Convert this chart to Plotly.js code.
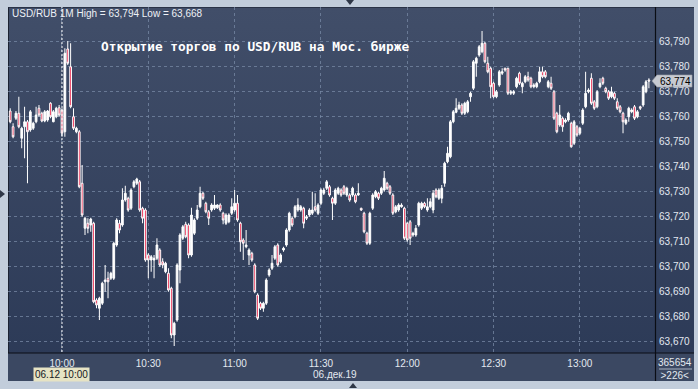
<!DOCTYPE html>
<html>
<head>
<meta charset="utf-8">
<script src="https://cdn.plot.ly/plotly-3.0.1.min.js"></script>
<style>
html,body{margin:0;padding:0;}
body{width:698px;height:389px;overflow:hidden;background:#c2cddb;position:relative;}
#panel{position:absolute;left:8px;top:7px;width:686px;height:374px;background:linear-gradient(#414e69,#2b3956);box-sizing:border-box;border-left:1px solid #1b2232;border-top:1px solid #2a3347;}
#band{position:absolute;left:8px;top:353px;width:686px;height:28px;background:#3b4862;}
#chart{position:absolute;left:0;top:0;width:698px;height:389px;}
.tri{position:absolute;width:0;height:0;}
#t1{left:346px;top:0;border-left:4px solid transparent;border-right:4px solid transparent;border-top:5px solid #2e3747;}
#t2{left:349px;top:383px;border-left:4px solid transparent;border-right:4px solid transparent;border-bottom:5px solid #2e3747;}
#t3{left:0;top:190px;border-top:4px solid transparent;border-bottom:4px solid transparent;border-left:5px solid #2e3747;}
</style>
</head>
<body>
<div id="panel"></div>
<div id="band"></div>
<div class="tri" id="t1"></div>
<div class="tri" id="t2"></div>
<div class="tri" id="t3"></div>
<div id="chart"></div>
<script>
// 1-minute candles, USD/RUB, 06.12.2019, first candle 09:42
const startDate = '2019-12-06';
const startMinute = 9 * 60 + 42;

const openPrices = [
63.7620,63.7557,63.7591,63.7611,63.7511,63.7557,63.7577,63.7544,63.7551,63.7577,
63.7631,63.7611,63.7580,63.7584,63.7651,63.7577,63.7597,63.7633,
63.7624,63.7537,63.7868,63.7797,63.7597,63.7537,63.7537,63.7331,63.7151,63.7171,
63.7164,63.7171,63.6864,63.6831,63.6851,63.6937,63.6951,63.6951,63.6951,63.7084,
63.7171,63.7164,63.7264,63.7271,63.7231,63.7317,63.7331,63.7337,63.7231,63.7224,
63.7044,63.7024,63.7024,63.7031,63.7064,63.7017,63.6977,63.6971,63.6911,63.6724,
63.6784,63.6984,63.7111,63.7167,63.7164,63.7044,63.7131,63.7191,63.7237,63.7291,
63.7251,63.7217,63.7224,63.7231,63.7233,63.7244,63.7211,63.7171,63.7177,63.7211,
63.7224,63.7251,63.7171,63.7104,63.7077,63.7044,63.7051,63.7004,63.6884,63.6851,
63.6831,63.6851,63.6964,63.6991,63.7031,63.7084,63.7017,63.7064,63.7084,63.7144,
63.7191,63.7197,63.7224,63.7224,63.7231,63.7191,63.7204,63.7211,63.7237,63.7211,
63.7251,63.7291,63.7311,63.7317,63.7271,63.7251,63.7291,63.7304,63.7317,63.7284,
63.7284,63.7284,63.7284,63.7284,63.7231,63.7211,63.7131,63.7091,63.7231,63.7277,
63.7291,63.7291,63.7304,63.7331,63.7317,63.7284,63.7217,63.7224,63.7237,63.7231,
63.7171,63.7177,63.7124,63.7124,63.7164,63.7231,63.7251,63.7224,63.7237,63.7224,
63.7304,63.7271,63.7271,63.7331,63.7417,63.7437,63.7577,63.7615,63.7631,63.7644,
63.7611,63.7617,63.7677,63.7711,63.7811,63.7844,63.7857,63.7891,63.7811,63.7791,
63.7731,63.7677,63.7724,63.7771,63.7791,63.7791,63.7691,63.7691,63.7717,63.7771,
63.7717,63.7737,63.7757,63.7751,63.7717,63.7717,63.7737,63.7777,63.7777,63.7717,
63.7731,63.7697,63.7611,63.7564,63.7591,63.7577,63.7584,63.7571,63.7491,63.7557,
63.7531,63.7571,63.7637,63.7697,63.7751,63.7657,63.7637,63.7717,63.7751,63.7711,
63.7697,63.7677,63.7691,63.7657,63.7637,63.7611,63.7571,63.7597,63.7617,63.7637,
63.7597,63.7637,63.7644,63.7697,63.7744
];
const highPrices = [
63.7631,63.7571,63.7620,63.7677,63.7557,63.7637,63.7584,63.7624,63.7577,63.7637,
63.7644,63.7617,63.7624,63.7624,63.7655,63.7624,63.7637,63.7644,
63.7631,63.7871,63.7900,63.7891,63.7631,63.7557,63.7544,63.7404,63.7197,63.7191,
63.7193,63.7177,63.6871,63.6877,63.6937,63.7004,63.6977,63.6977,63.7097,63.7191,
63.7184,63.7311,63.7321,63.7277,63.7311,63.7344,63.7353,63.7344,63.7237,63.7231,
63.7051,63.7044,63.7044,63.7111,63.7071,63.7031,63.7017,63.6991,63.6917,63.6777,
63.7011,63.7131,63.7164,63.7177,63.7171,63.7233,63.7191,63.7244,63.7317,63.7297,
63.7257,63.7224,63.7251,63.7284,63.7247,63.7251,63.7217,63.7211,63.7211,63.7271,
63.7304,63.7284,63.7177,63.7111,63.7144,63.7071,63.7057,63.7011,63.6891,63.6857,
63.6857,63.6951,63.6991,63.7044,63.7084,63.7091,63.7051,63.7077,63.7151,63.7217,
63.7197,63.7244,63.7271,63.7244,63.7237,63.7204,63.7231,63.7297,63.7291,63.7251,
63.7311,63.7313,63.7344,63.7324,63.7277,63.7311,63.7317,63.7311,63.7324,63.7317,
63.7291,63.7317,63.7291,63.7331,63.7233,63.7217,63.7137,63.7217,63.7291,63.7304,
63.7297,63.7317,63.7380,63.7337,63.7324,63.7291,63.7244,63.7251,63.7251,63.7237,
63.7177,63.7184,63.7137,63.7164,63.7257,63.7257,63.7257,63.7271,63.7271,63.7304,
63.7311,63.7311,63.7324,63.7417,63.7477,63.7584,63.7624,63.7671,63.7657,63.7651,
63.7657,63.7664,63.7697,63.7824,63.7837,63.7884,63.7940,63.7897,63.7837,63.7797,
63.7737,63.7704,63.7784,63.7791,63.7793,63.7793,63.7704,63.7704,63.7757,63.7777,
63.7737,63.7764,63.7777,63.7757,63.7731,63.7737,63.7797,63.7797,63.7784,63.7744,
63.7757,63.7704,63.7617,63.7644,63.7597,63.7591,63.7617,63.7577,63.7584,63.7564,
63.7557,63.7631,63.7777,63.7711,63.7771,63.7664,63.7704,63.7751,63.7757,63.7717,
63.7704,63.7717,63.7697,63.7671,63.7644,63.7617,63.7591,63.7637,63.7631,63.7644,
63.7624,63.7641,63.7724,63.7744,63.7751
];
const lowPrices = [
63.7571,63.7511,63.7584,63.7551,63.7471,63.7431,63.7331,63.7537,63.7544,63.7571,
63.7597,63.7575,63.7575,63.7577,63.7591,63.7575,63.7591,63.7597,
63.7517,63.7517,63.7804,63.7631,63.7544,63.7531,63.7311,63.7197,63.7124,63.7131,
63.7137,63.6851,63.6831,63.6784,63.6844,63.6897,63.6871,63.6944,63.6944,63.7077,
63.7131,63.7157,63.7257,63.7217,63.7224,63.7311,63.7324,63.7217,63.7171,63.7017,
63.6951,63.6977,63.6951,63.7024,63.6997,63.6991,63.6971,63.6897,63.6711,63.6680,
63.6777,63.6931,63.7104,63.7111,63.7031,63.7037,63.7124,63.7184,63.7231,63.7264,
63.7211,63.7164,63.7217,63.7224,63.7228,63.7217,63.7167,63.7164,63.7171,63.7204,
63.7217,63.7177,63.7057,63.7024,63.7071,63.7004,63.7017,63.6891,63.6784,63.6824,
63.6817,63.6844,63.6957,63.6984,63.7024,63.6997,63.7011,63.7057,63.7077,63.7137,
63.7157,63.7191,63.7217,63.7217,63.7151,63.7184,63.7197,63.7204,63.7217,63.7204,
63.7244,63.7284,63.7304,63.7277,63.7184,63.7244,63.7284,63.7277,63.7284,63.7277,
63.7257,63.7277,63.7251,63.7281,63.7220,63.7131,63.7084,63.7084,63.7224,63.7271,
63.7264,63.7284,63.7297,63.7304,63.7284,63.7204,63.7211,63.7217,63.7233,63.7104,
63.7097,63.7084,63.7117,63.7117,63.7157,63.7224,63.7231,63.7217,63.7231,63.7211,
63.7271,63.7264,63.7251,63.7317,63.7411,63.7431,63.7571,63.7611,63.7624,63.7604,
63.7604,63.7611,63.7657,63.7704,63.7757,63.7837,63.7851,63.7811,63.7771,63.7671,
63.7671,63.7671,63.7717,63.7764,63.7777,63.7684,63.7684,63.7684,63.7711,63.7724,
63.7691,63.7731,63.7737,63.7711,63.7711,63.7711,63.7731,63.7751,63.7751,63.7711,
63.7704,63.7584,63.7531,63.7557,63.7537,63.7571,63.7577,63.7473,63.7484,63.7517,
63.7524,63.7564,63.7631,63.7691,63.7644,63.7624,63.7631,63.7711,63.7724,63.7691,
63.7664,63.7671,63.7664,63.7624,63.7611,63.7531,63.7564,63.7577,63.7611,63.7584,
63.7591,63.7624,63.7637,63.7691,63.7711
];
const closePrices = [
63.7577,63.7517,63.7611,63.7557,63.7551,63.7577,63.7537,63.7617,63.7571,63.7604,
63.7604,63.7580,63.7617,63.7620,63.7597,63.7617,63.7631,63.7604,
63.7531,63.7851,63.7811,63.7637,63.7551,63.7551,63.7317,63.7204,63.7191,63.7151,
63.7188,63.6857,63.6844,63.6871,63.6931,63.6944,63.6937,63.6971,63.7091,63.7184,
63.7144,63.7264,63.7291,63.7224,63.7304,63.7337,63.7348,63.7224,63.7191,63.7024,
63.7024,63.7037,63.7031,63.7084,63.7004,63.7004,63.7011,63.6904,63.6724,63.6771,
63.7004,63.7124,63.7157,63.7117,63.7044,63.7204,63.7184,63.7224,63.7291,63.7271,
63.7217,63.7191,63.7244,63.7244,63.7244,63.7224,63.7184,63.7204,63.7204,63.7237,
63.7251,63.7184,63.7097,63.7091,63.7084,63.7064,63.7024,63.6897,63.6791,63.6831,
63.6851,63.6944,63.6984,63.7011,63.7077,63.7004,63.7044,63.7071,63.7144,63.7211,
63.7164,63.7237,63.7244,63.7237,63.7171,63.7197,63.7224,63.7224,63.7224,63.7244,
63.7304,63.7304,63.7337,63.7284,63.7251,63.7304,63.7311,63.7284,63.7291,63.7311,
63.7264,63.7311,63.7257,63.7291,63.7224,63.7137,63.7091,63.7211,63.7284,63.7297,
63.7271,63.7311,63.7351,63.7311,63.7291,63.7211,63.7237,63.7244,63.7244,63.7111,
63.7104,63.7111,63.7131,63.7151,63.7251,63.7251,63.7237,63.7237,63.7257,63.7291,
63.7277,63.7304,63.7311,63.7411,63.7451,63.7577,63.7617,63.7631,63.7644,63.7611,
63.7651,63.7657,63.7691,63.7817,63.7831,63.7877,63.7891,63.7817,63.7777,63.7717,
63.7677,63.7697,63.7777,63.7777,63.7784,63.7691,63.7697,63.7697,63.7751,63.7731,
63.7731,63.7757,63.7744,63.7717,63.7724,63.7731,63.7777,63.7757,63.7757,63.7737,
63.7711,63.7591,63.7537,63.7604,63.7557,63.7584,63.7611,63.7477,63.7577,63.7524,
63.7551,63.7624,63.7691,63.7704,63.7651,63.7631,63.7697,63.7731,63.7731,63.7697,
63.7671,63.7697,63.7671,63.7631,63.7617,63.7577,63.7584,63.7631,63.7624,63.7591,
63.7617,63.7631,63.7717,63.7737,63.7740
];

const priceTicks = [63.67,63.68,63.69,63.70,63.71,63.72,63.73,63.74,63.75,63.76,63.77,63.78,63.79];
const timeTickVals = ['2019-12-06 10:00','2019-12-06 10:30','2019-12-06 11:00','2019-12-06 11:30','2019-12-06 12:00','2019-12-06 12:30','2019-12-06 13:00'];
const timeTickText = ['10:00','10:30','11:00','11:30','12:00','12:30','13:00'];
const headerText = 'USD/RUB 1M High = 63,794 Low = 63,668';
const overlayText = 'Открытие торгов по USD/RUB на Мос. бирже';
const lastPrice = 63.774;
const lastPriceText = '63,774';
const dateText = '06.дек.19';
const cursorTime = '2019-12-06 10:00';
const cursorText = '06.12 10:00';
const counterText = '365654<br>&gt;226&lt;';

function pad(n){return (n<10?'0':'')+n;}
const times = openPrices.map(function(_, i){
  const t = startMinute + i;
  return startDate + ' ' + pad(Math.floor(t/60)) + ':' + pad(t%60);
});

// pixel helpers for decorations (plot area x 8..655, y 7..352)
function px(x){return (x-8)/647;}
function py(y){return (352-y)/345;}

const uiFont = 'Liberation Sans, Arial, sans-serif';
const txtColor = '#e3e8f0';
const gridColor = 'rgba(120,137,165,0.75)';

const trace = {
  type:'candlestick',
  x: times,
  open: openPrices, high: highPrices, low: lowPrices, close: closePrices,
  increasing:{line:{color:'#ffffff', width:1}, fillcolor:'#ffffff'},
  decreasing:{line:{color:'#ffffff', width:1}, fillcolor:'#e8103a'},
  whiskerwidth:0,
  hoverinfo:'skip',
  showlegend:false
};

const layout = {
  width:698, height:389,
  margin:{l:8, r:43, t:7, b:37, pad:0},
  paper_bgcolor:'rgba(0,0,0,0)',
  plot_bgcolor:'rgba(0,0,0,0)',
  separators:', ',
  boxgap:0.15,
  showlegend:false,
  font:{family:uiFont, size:10, color:txtColor},
  xaxis:{
    type:'date',
    range:['2019-12-06 09:41:14','2019-12-06 13:26:07'],
    tickvals:timeTickVals, ticktext:timeTickText,
    showgrid:true, gridcolor:gridColor, griddash:'3px,3px', gridwidth:1,
    zeroline:false, showline:false, ticks:'',
    ticklabelstandoff:4,
    tickfont:{family:uiFont, size:10, color:txtColor},
    rangeslider:{visible:false},
    fixedrange:true
  },
  yaxis:{
    side:'right',
    range:[63.6656, 63.8036],
    tickvals:priceTicks, tickformat:'.3f',
    showgrid:true, gridcolor:gridColor, griddash:'3px,3px', gridwidth:1,
    zeroline:false, showline:false, ticks:'',
    ticklabelstandoff:3,
    tickfont:{family:uiFont, size:10, color:txtColor},
    fixedrange:true
  },
  shapes:[
    {type:'line', xref:'x', yref:'paper', x0:cursorTime, x1:cursorTime, y0:0, y1:1, layer:'above',
     line:{color:'#ffffff', width:1, dash:'2px,2px'}},
    {type:'line', xref:'paper', yref:'paper', x0:px(655.5), x1:px(655.5), y0:py(381), y1:py(7), layer:'above',
     line:{color:'#0a0d14', width:1.2}},
    {type:'line', xref:'paper', yref:'paper', x0:px(8), x1:px(694), y0:py(353), y1:py(353), layer:'above',
     line:{color:'#0a0d14', width:1.2}},
    {type:'path', xref:'paper', yref:'y', layer:'above',
     path:'M '+px(652)+','+lastPrice+' L '+px(657)+','+(lastPrice+0.0024)+' L '+px(692)+','+(lastPrice+0.0024)+
          ' L '+px(692)+','+(lastPrice-0.0024)+' L '+px(657)+','+(lastPrice-0.0024)+' Z',
     fillcolor:'#c6cad2', line:{color:'#9aa0aa', width:0.6}},
    {type:'line', xref:'paper', yref:'paper', x0:px(659), x1:px(692), y0:py(369), y1:py(369), layer:'above',
     line:{color:'#aab3c2', width:1}}
  ],
  annotations:[
    {xref:'paper', yref:'paper', x:px(10), y:py(14), xanchor:'left', yanchor:'middle', showarrow:false,
     text:headerText, font:{family:uiFont, size:10, color:'#eef1f6'}},
    {xref:'paper', yref:'paper', x:px(99), y:py(47), xanchor:'left', yanchor:'middle', showarrow:false,
     text:overlayText, font:{family:'DejaVu Sans Mono, monospace', size:12.8, color:'#ffffff', weight:'bold'}},
    {xref:'paper', yref:'y', x:px(658), y:lastPrice, xanchor:'left', yanchor:'middle', showarrow:false,
     text:lastPriceText, font:{family:uiFont, size:10, color:'#000000'}},
    {xref:'paper', yref:'paper', x:px(335), y:py(374), xanchor:'center', yanchor:'middle', showarrow:false,
     text:dateText, font:{family:uiFont, size:10, color:txtColor}},
    {xref:'x', yref:'paper', x:cursorTime, y:py(374), xanchor:'center', yanchor:'middle', showarrow:false,
     text:cursorText, bgcolor:'#e6e3c4', borderpad:1, font:{family:uiFont, size:10, color:'#15181f'}},
    {xref:'paper', yref:'paper', x:px(675), y:py(369), xanchor:'center', yanchor:'middle', showarrow:false,
     text:counterText, font:{family:uiFont, size:10, color:txtColor}}
  ]
};

Plotly.newPlot('chart', [trace], layout, {staticPlot:true, displayModeBar:false});
</script>
</body>
</html>
